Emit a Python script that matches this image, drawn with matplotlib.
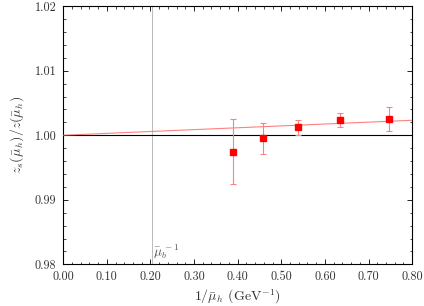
import numpy as np
import matplotlib
matplotlib.use("Agg")
import matplotlib.pyplot as plt
from matplotlib.ticker import MultipleLocator

plt.rcParams['font.family'] = 'serif'
plt.rcParams['font.serif'] = ['cmr10']
plt.rcParams['mathtext.fontset'] = 'cm'
plt.rcParams['axes.formatter.use_mathtext'] = True

# data
inv_mu = [0.389, 0.458, 0.539, 0.634, 0.746]
ratio = [0.99745, 0.99952, 1.00122, 1.00235, 1.00251]
ratio_err = [0.0050, 0.0024, 0.0012, 0.0011, 0.0019]
fit_a = 1.0000
fit_b = 0.0029
inv_mu_b = 0.203

fig = plt.figure(figsize=(4.24, 3.06), dpi=100)
ax = fig.add_axes([0.149, 0.136, 0.823, 0.844])

ax.axvline(inv_mu_b, color='#b0b0b0', lw=0.6, zorder=1)
ax.axhline(1.0, color='black', lw=0.8, zorder=2)

xf = np.array([0.0, 0.8])
ax.plot(xf, fit_a + fit_b * xf, color='#ff6060', lw=0.8, alpha=0.8, zorder=3)

ax.errorbar(inv_mu, ratio, yerr=ratio_err, fmt='none', ecolor='#ff8080',
            elinewidth=0.8, capsize=2, capthick=0.8, zorder=4)
ax.plot(inv_mu, ratio, 's', color='red', markersize=5, zorder=5)

ax.text(inv_mu_b + 0.003, 0.9806, r'$\bar\mu_b^{\,-1}$', fontsize=9.5, color='#555555',
        ha='left', va='bottom')

ax.set_xlim(0, 0.8)
ax.set_ylim(0.98, 1.02)
ax.xaxis.set_major_locator(MultipleLocator(0.1))
ax.xaxis.set_minor_locator(MultipleLocator(0.02))
ax.yaxis.set_major_locator(MultipleLocator(0.01))
ax.yaxis.set_minor_locator(MultipleLocator(0.002))
ax.xaxis.set_major_formatter(plt.FormatStrFormatter('%.2f'))
ax.yaxis.set_major_formatter(plt.FormatStrFormatter('%.2f'))
ax.tick_params(which='both', direction='in', top=True, right=True,
               labelsize=8.8, labelcolor='#333333')
ax.tick_params(which='major', length=3.5, width=0.6, pad=5)
ax.tick_params(which='minor', length=1.8, width=0.5)
for s in ax.spines.values():
    s.set_linewidth(0.8)

ax.set_xlabel(r'$1/\bar\mu_h$ (GeV$^{-1}$)', fontsize=10, color='#333333', labelpad=3)
ax.set_ylabel(r'$z_s(\bar\mu_h)/z(\bar\mu_h)$', fontsize=10, color='#333333', labelpad=6)

fig.savefig('out.png', dpi=100)
